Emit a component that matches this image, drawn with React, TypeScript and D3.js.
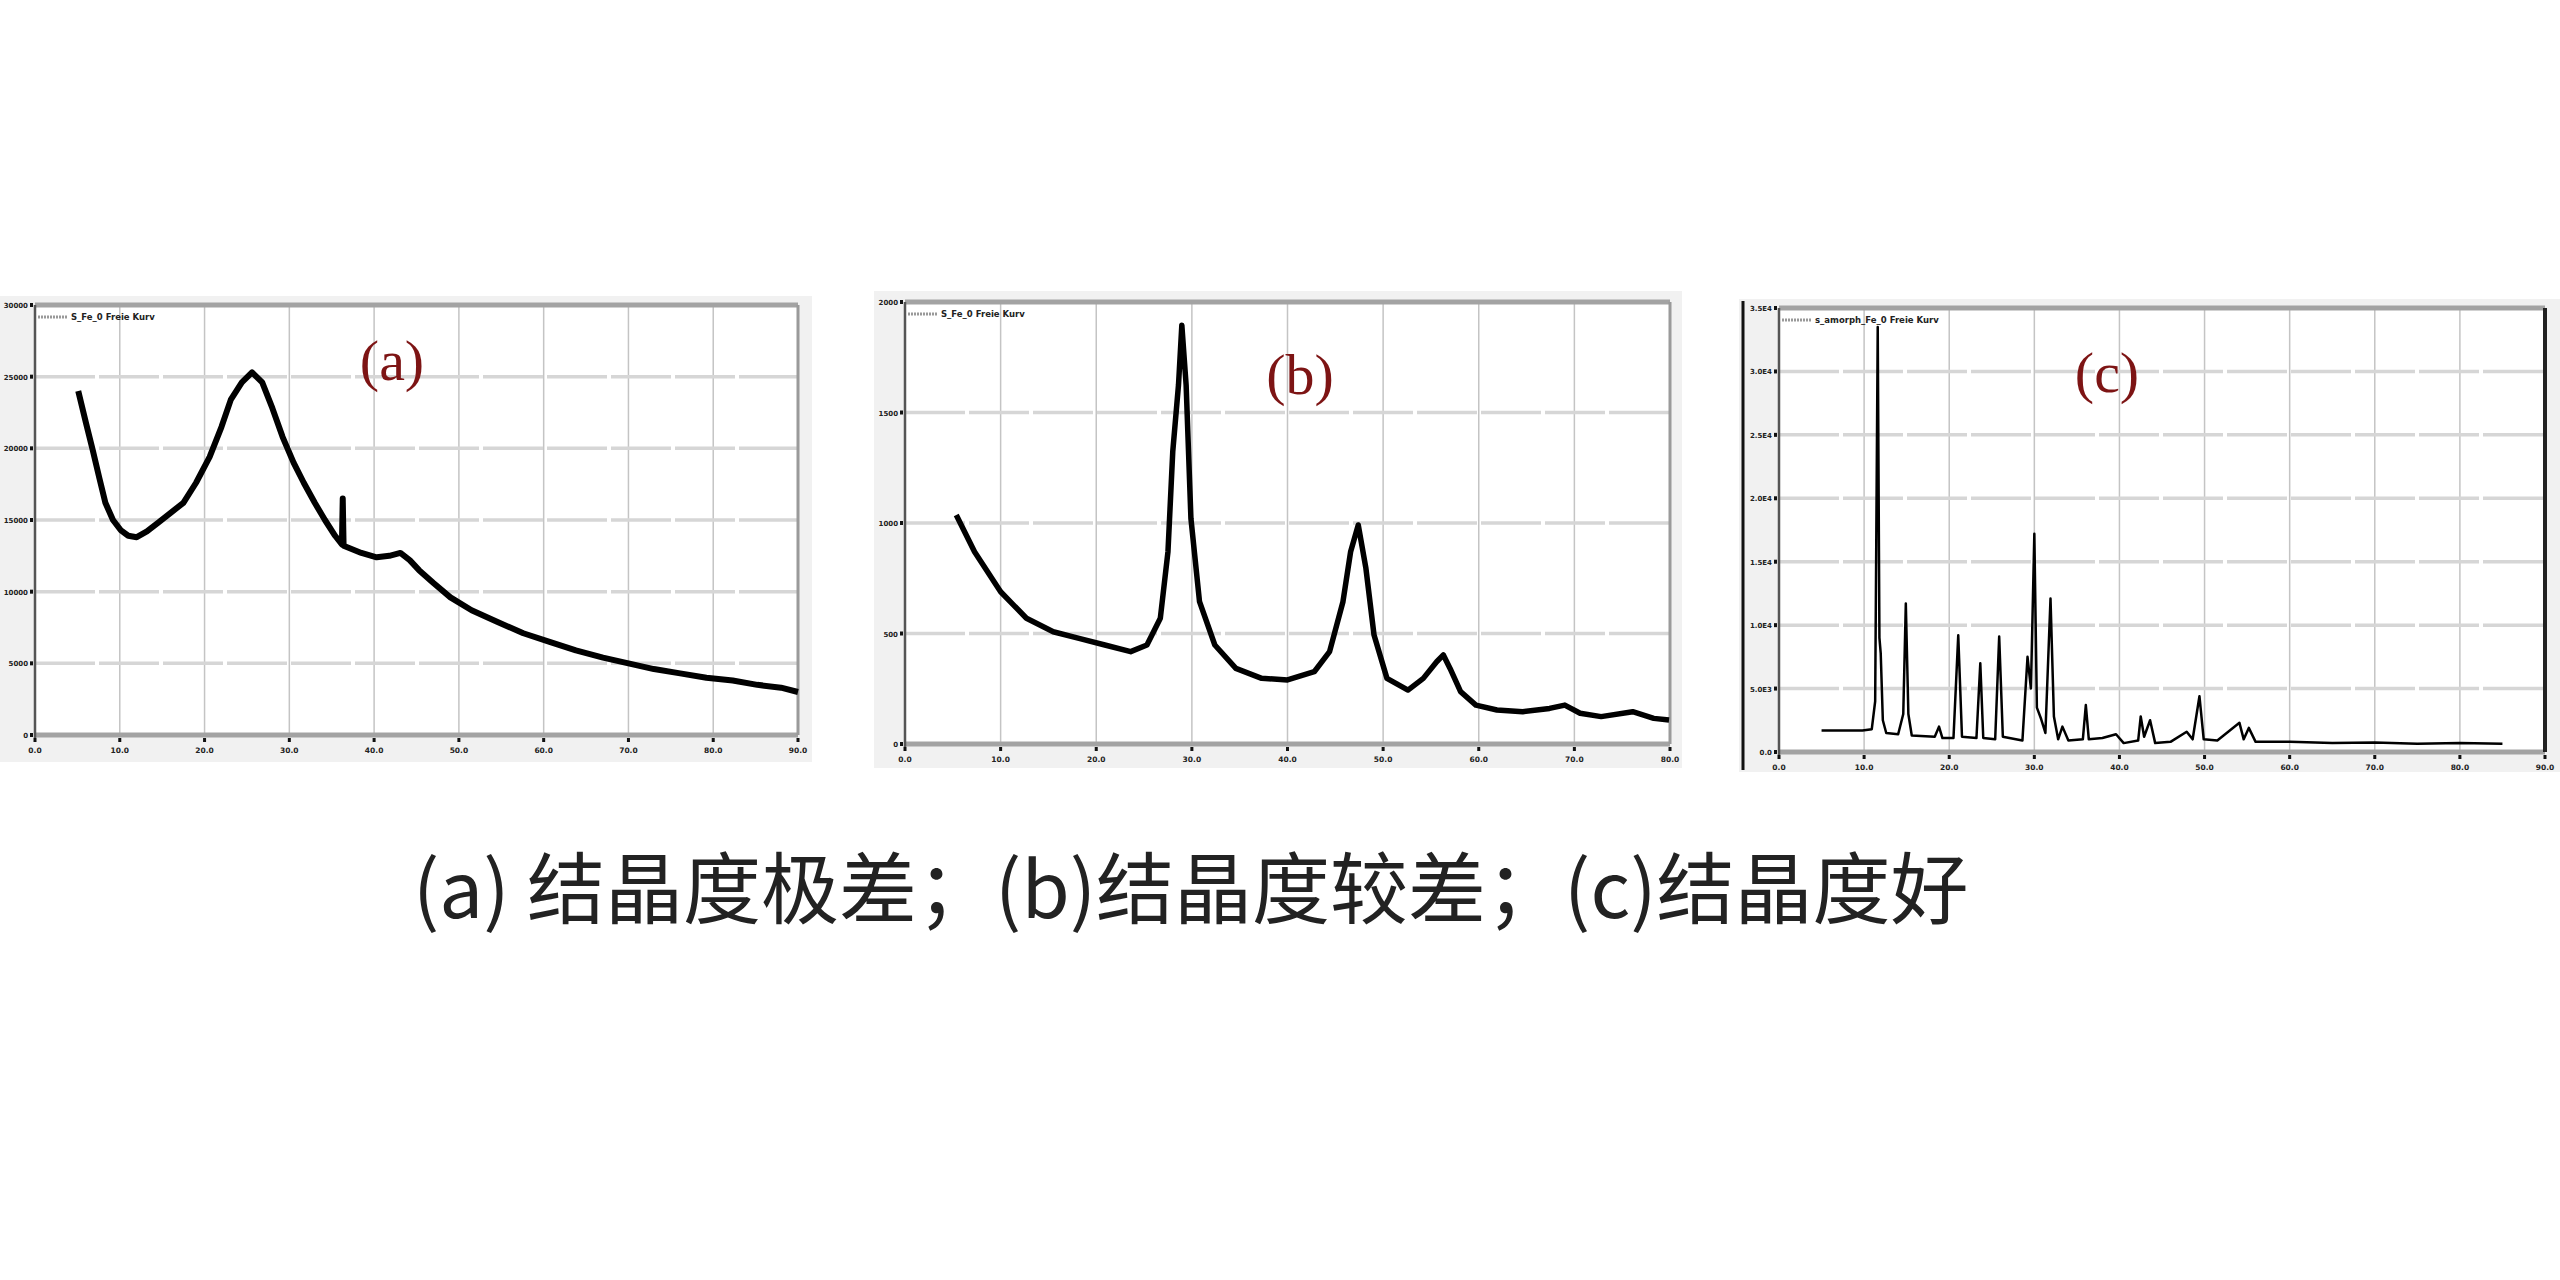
import React from 'react';
import * as d3 from 'd3';

// (a) amorphous hump
const aTheta = [5.1, 6.0, 6.8, 7.6, 8.3, 9.2, 10.1, 11.0, 12.0, 13.2, 14.5, 16.0, 17.5, 19.0, 20.6, 22.0, 23.1, 24.4, 25.6, 26.8, 28.0, 29.2, 30.5, 31.7, 33.0, 34.2, 35.4, 36.2, 36.3, 36.4, 38.5, 40.3, 41.8, 43.1, 44.2, 45.3, 47.0, 49.0, 51.5, 54.5, 57.6, 60.7, 63.8, 67.0, 70.0, 73.0, 76.1, 79.2, 82.3, 85.2, 88.0, 90.0];
const aCounts = [24000, 21800, 19900, 17900, 16200, 15000, 14300, 13900, 13800, 14200, 14800, 15500, 16200, 17600, 19400, 21500, 23400, 24600, 25300, 24600, 22800, 20800, 19000, 17600, 16200, 15000, 13900, 13300, 16500, 13200, 12700, 12400, 12500, 12700, 12200, 11500, 10600, 9600, 8700, 7900, 7100, 6500, 5900, 5400, 5000, 4600, 4300, 4000, 3800, 3500, 3300, 3000];

// (b) broad peaks
const bTheta = [5.36, 7.27, 10.0, 12.7, 15.5, 18.2, 20.9, 23.6, 25.3, 26.7, 27.5, 28.0, 28.6, 28.95, 29.4, 29.9, 30.8, 32.4, 34.6, 37.3, 40.0, 42.8, 44.4, 45.8, 46.6, 47.4, 48.2, 49.05, 50.4, 52.6, 54.2, 55.6, 56.3, 57.0, 58.1, 59.7, 61.9, 64.6, 67.4, 69.0, 70.6, 72.8, 76.1, 78.3, 79.9];
const bCounts = [1036, 870, 689, 569, 508, 478, 448, 418, 448, 569, 870, 1322, 1624, 1895, 1624, 1021, 644, 448, 342, 297, 290, 327, 418, 644, 870, 991, 795, 493, 297, 244, 297, 372, 403, 342, 237, 176, 154, 146, 161, 176, 139, 124, 146, 116, 109];

// (c) sharp crystalline peaks
const cTheta = [5.0, 9.8, 10.9, 11.3, 11.6, 11.8, 11.95, 12.2, 12.6, 14.0, 14.6, 14.9, 15.2, 15.6, 18.3, 18.8, 19.2, 20.5, 21.06, 21.5, 23.2, 23.65, 24.0, 25.4, 25.87, 26.3, 28.6, 29.2, 29.6, 30.0, 30.3, 30.8, 31.3, 31.9, 32.3, 32.8, 33.3, 34.0, 35.7, 36.05, 36.4, 38.0, 39.6, 40.5, 42.2, 42.5, 42.9, 43.6, 44.2, 46.0, 47.9, 48.6, 49.4, 49.9, 51.5, 54.1, 54.6, 55.2, 56.0, 60.0, 65.0, 70.0, 75.0, 80.0, 85.0];
const cCounts = [1700, 1700, 1800, 4000, 33500, 9000, 7800, 2500, 1500, 1400, 3000, 11700, 3000, 1300, 1200, 2000, 1100, 1100, 9200, 1200, 1100, 7000, 1100, 1000, 9100, 1200, 900, 7500, 5000, 17200, 3500, 2600, 1500, 12100, 2800, 1000, 2000, 900, 1000, 3700, 1000, 1100, 1400, 700, 900, 2800, 1200, 2500, 700, 800, 1600, 1000, 4400, 1000, 900, 2300, 1000, 1900, 800, 800, 700, 750, 650, 700, 650];

const aXTicks = [0, 10, 20, 30, 40, 50, 60, 70, 80, 90];
const aYTicks = [0, 5000, 10000, 15000, 20000, 25000, 30000];
const bXTicks = [0, 10, 20, 30, 40, 50, 60, 70, 80];
const bYTicks = [0, 500, 1000, 1500, 2000];
const cXTicks = [0, 10, 20, 30, 40, 50, 60, 70, 80, 90];
const cYTicks = [0, 5000, 10000, 15000, 20000, 25000, 30000, 35000];
const cYLabels = ['0.0', '5.0E3', '1.0E4', '1.5E4', '2.0E4', '2.5E4', '3.0E4', '3.5E4'];

const legends = ['S_Fe_0 Freie Kurv', 'S_Fe_0 Freie Kurv', 's_amorph_Fe_0 Freie Kurv'];
const tags = ['(a)', '(b)', '(c)'];
const caption = '(a) 结晶度极差；(b)结晶度较差；(c)结晶度好';

interface Spec {
  outer: [number, number, number, number];
  plot: [number, number, number, number];
  theta: number[];
  counts: number[];
  xTicks: number[];
  yTicks: number[];
  yLabels: string[];
  legend: string;
  tag: string;
  tagPos: [number, number];
  lineWidth: number;
  dark?: boolean;
}

const specs: Spec[] = [
  {
    outer: [0, 296, 812, 762], plot: [35, 305, 798, 735],
    theta: aTheta, counts: aCounts, xTicks: aXTicks, yTicks: aYTicks,
    yLabels: aYTicks.map(String), legend: legends[0], tag: tags[0], tagPos: [392, 380], lineWidth: 6,
  },
  {
    outer: [874, 291, 1682, 768], plot: [905, 302, 1670, 744],
    theta: bTheta, counts: bCounts, xTicks: bXTicks, yTicks: bYTicks,
    yLabels: bYTicks.map(String), legend: legends[1], tag: tags[1], tagPos: [1300, 394], lineWidth: 5.5,
  },
  {
    outer: [1739, 299, 2560, 772], plot: [1779, 308, 2545, 752],
    theta: cTheta, counts: cCounts, xTicks: cXTicks, yTicks: cYTicks,
    yLabels: cYLabels, legend: legends[2], tag: tags[2], tagPos: [2107, 392], lineWidth: 2.5, dark: true,
  },
];

const Panel: React.FC<{ s: Spec }> = ({ s }) => {
  const [ox0, oy0, ox1, oy1] = s.outer;
  const [px0, py0, px1, py1] = s.plot;
  const x = d3.scaleLinear().domain([s.xTicks[0], s.xTicks[s.xTicks.length - 1]]).range([px0, px1]);
  const y = d3.scaleLinear().domain([s.yTicks[0], s.yTicks[s.yTicks.length - 1]]).range([py1, py0]);
  const line = d3.line<number>().x((_, i) => x(s.theta[i])).y(d => y(d));
  const fmt = d3.format('.1f');

  return (
    <g>
      <rect x={ox0} y={oy0} width={ox1 - ox0} height={oy1 - oy0} fill="#f1f1f1" />
      <rect x={px0} y={py0} width={px1 - px0} height={py1 - py0} fill="#fff" />
      {/* grid */}
      {s.xTicks.slice(1, -1).map(t => (
        <line key={'vx' + t} x1={x(t)} x2={x(t)} y1={py0} y2={py1} stroke="#c4c4c4" strokeWidth={1.5} />
      ))}
      {s.yTicks.slice(1, -1).map(t => (
        <line key={'hy' + t} x1={px0} x2={px1} y1={y(t)} y2={y(t)} stroke="#d6d6d6" strokeWidth={3.5} strokeDasharray="60 4" />
      ))}
      {/* frame */}
      <line x1={px0} x2={px1} y1={py0} y2={py0} stroke="#a3a3a3" strokeWidth={5} />
      <line x1={px0} x2={px1} y1={py1} y2={py1} stroke="#a3a3a3" strokeWidth={5} />
      <line x1={px1} x2={px1} y1={py0} y2={py1} stroke={s.dark ? '#222' : '#9a9a9a'} strokeWidth={s.dark ? 4 : 3} />
      <line x1={px0} x2={px0} y1={py0} y2={py1 + 3} stroke="#555" strokeWidth={2.5} />
      {s.dark && <line x1={ox0 + 4} x2={ox0 + 4} y1={oy0 + 2} y2={oy1 - 2} stroke="#111" strokeWidth={3} />}
      {/* ticks and labels */}
      {s.yTicks.map((t, i) => (
        <g key={'yt' + t}>
          <rect x={px0 - 5} y={y(t) - 2} width={3} height={4} fill="#111" />
          <text x={px0 - 7} y={y(t) + 3} fontSize={7} fontWeight="bold" textAnchor="end" fill="#222"
            fontFamily="DejaVu Sans">{s.yLabels[i]}</text>
        </g>
      ))}
      {s.xTicks.map(t => (
        <g key={'xt' + t}>
          <rect x={x(t) - 1.5} y={py1 + 3} width={3} height={4} fill="#111" />
          <text x={x(t)} y={py1 + 18} fontSize={7.5} fontWeight="bold" textAnchor="middle" fill="#222"
            fontFamily="DejaVu Sans">{fmt(t)}</text>
        </g>
      ))}
      {/* legend */}
      <line x1={px0 + 3} x2={px0 + 32} y1={py0 + 12} y2={py0 + 12} stroke="#999" strokeWidth={3} strokeDasharray="2 1" />
      <text x={px0 + 36} y={py0 + 15} fontSize={8.5} fontWeight="bold" fill="#222" fontFamily="DejaVu Sans">{s.legend}</text>
      {/* curve */}
      <path d={line(s.counts) || ''} fill="none" stroke="#000" strokeWidth={s.lineWidth} strokeLinejoin="round" />
      <text x={s.tagPos[0]} y={s.tagPos[1]} fontSize={58} fill="#7d1414" textAnchor="middle"
        fontFamily="Liberation Serif">{s.tag}</text>
    </g>
  );
};

export default function App() {
  return (
    <svg width={2560} height={1280} viewBox="0 0 2560 1280"
      style={{ position: 'absolute', left: 0, top: 0, display: 'block', background: '#fff' }}>
      <rect x={0} y={0} width={2560} height={1280} fill="#fff" />
      {specs.map((s, i) => <Panel key={i} s={s} />)}
      <text x={413} y={918} fontSize={78} fill="#222" fontFamily="Noto Sans CJK SC">{caption}</text>
    </svg>
  );
}
